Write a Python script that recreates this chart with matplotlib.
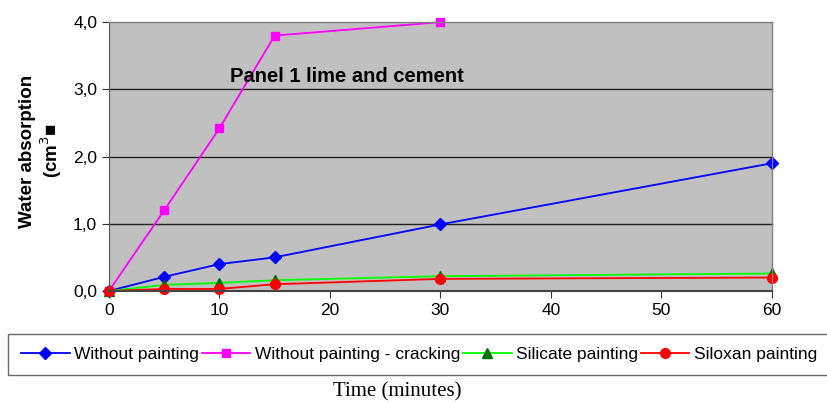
import matplotlib
matplotlib.use("Agg")
import matplotlib.pyplot as plt

time_min = [0, 5, 10, 15, 30, 60]
without_painting = [0.0, 0.21, 0.40, 0.50, 0.99, 1.90]
time_crack = [0, 5, 10, 15, 30]
without_cracking = [0.0, 1.20, 2.42, 3.80, 4.00]
silicate = [0.0, 0.09, 0.12, 0.16, 0.22, 0.26]
siloxan = [0.0, 0.03, 0.03, 0.10, 0.18, 0.20]

y_ticks = [0, 1, 2, 3, 4]
y_tick_labels = ["0,0", "1,0", "2,0", "3,0", "4,0"]
x_ticks = [0, 10, 20, 30, 40, 50, 60]

plt.rcParams['font.family'] = ['Liberation Sans', 'DejaVu Sans']

fig = plt.figure(figsize=(8.28, 4.03), dpi=100)
ax = fig.add_axes([0.1316, 0.278, 0.8004, 0.667])
ax.set_facecolor("#c0c0c0")

ax.plot(time_min, without_painting, color="#0000ff", lw=1.3, marker="D", ms=6,
        label="Without painting")
ax.plot(time_crack, without_cracking, color="#ff00ff", lw=1.3, marker="s", ms=6,
        label="Without painting - cracking")
ax.plot(time_min, silicate, color="#00ff00", lw=1.3, marker="^", ms=7,
        mfc="#007000", mec="#007000", label="Silicate painting")
ax.plot(time_min, siloxan, color="#ff0000", lw=1.3, marker="o", ms=7,
        label="Siloxan painting")

ax.set_xlim(0, 60)
ax.set_ylim(0, 4)
ax.set_xticks(x_ticks)
ax.set_yticks(y_ticks)
ax.set_yticklabels(y_tick_labels)
ax.tick_params(labelsize=12.5, direction="out", length=5, color="#333333")
for y in [1, 2, 3]:
    ax.axhline(y, color="#222222", lw=1, zorder=1)
for ln in ax.lines:
    ln.set_clip_on(False)

for s in ["top", "right"]:
    ax.spines[s].set_color("#808080")
    ax.spines[s].set_linewidth(1)
ax.spines["left"].set_color("#555555")
ax.spines["bottom"].set_color("#444444")
ax.spines["bottom"].set_linewidth(1.5)

ax.text(21.5, 3.19, "Panel 1 lime and cement", ha="center", va="center",
        fontsize=14.5, fontweight="bold")

fig.text(0.05, 0.625, "Water absorption\n(cm$^3$\u25a0", rotation=90, ha="center",
         va="center", fontsize=13.5, fontweight="bold", linespacing=1.1)

leg = fig.legend(loc="lower left", bbox_to_anchor=(8 / 828, 28 / 403, 822 / 828, 39 / 403),
                 mode="expand", ncol=4, frameon=True,
                 fancybox=False, edgecolor="#444444",
                 handlelength=2.8, columnspacing=0.6, handletextpad=0.25,
                 borderpad=0.75, borderaxespad=0,
                 prop={"family": ["Liberation Sans Narrow", "Liberation Sans"], "size": 12.5})
leg.get_frame().set_linewidth(1)

fig.text(0.48, 0.027, "Time (minutes)", ha="center", va="center", fontsize=15,
         family=["Liberation Serif", "DejaVu Serif"])

fig.savefig("out.png", dpi=100)
